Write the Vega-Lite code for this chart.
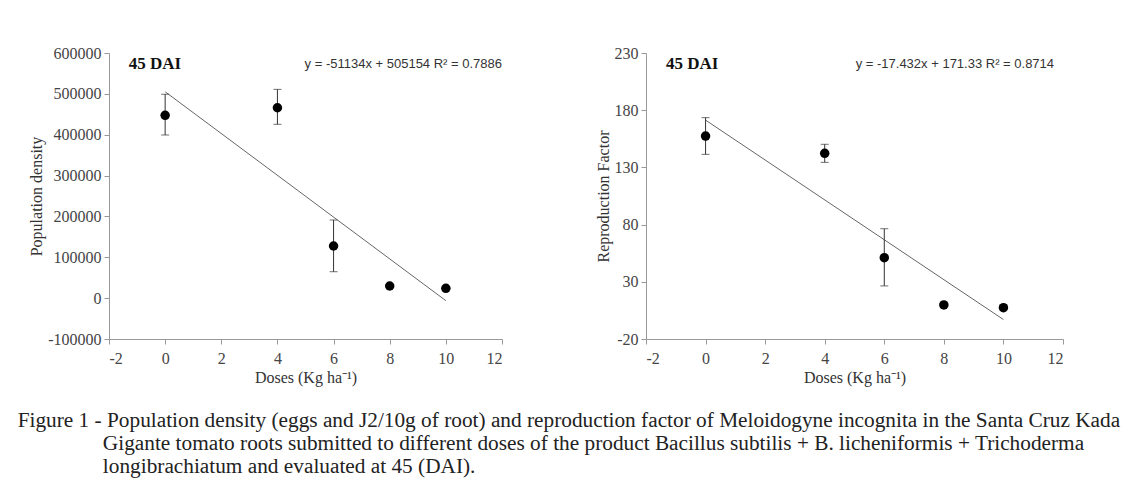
{
  "$schema": "https://vega.github.io/schema/vega-lite/v6.json",
  "padding": {"left": 17, "top": 45, "right": 5, "bottom": 5},
  "background": "white",
  "datasets": {
    "pop": [
      {"dose": 0, "mean": 447500, "lo": 399300, "hi": 499000},
      {"dose": 4, "mean": 466000, "lo": 425500, "hi": 511000},
      {"dose": 6, "mean": 127600, "lo": 64700, "hi": 191300},
      {"dose": 8, "mean": 29700, "lo": 29700, "hi": 29700},
      {"dose": 10, "mean": 24000, "lo": 24000, "hi": 24000}
    ],
    "popTrend": [
      {"dose": 0, "fit": 505154},
      {"dose": 10, "fit": -6186}
    ],
    "rf": [
      {"dose": 0, "mean": 157.4, "lo": 141.4, "hi": 173.5},
      {"dose": 4, "mean": 142.3, "lo": 134.4, "hi": 150.2},
      {"dose": 6, "mean": 51.1, "lo": 26.4, "hi": 76.4},
      {"dose": 8, "mean": 9.8, "lo": 9.8, "hi": 9.8},
      {"dose": 10, "mean": 7.4, "lo": 7.4, "hi": 7.4}
    ],
    "rfTrend": [
      {"dose": 0, "fit": 171.33},
      {"dose": 10, "fit": -2.99}
    ],
    "popPanel": [{"x": -1.3, "y": 573000, "label": "45 DAI"}],
    "popEq": [{"x": 12, "y": 573000, "label": "y = -51134x + 505154  R² = 0.7886"}],
    "rfPanel": [{"x": -1.33, "y": 220.4, "label": "45 DAI"}],
    "rfEq": [{"x": 11.7, "y": 220.4, "label": "y = -17.432x + 171.33  R² = 0.8714"}]
  },
  "hconcat": [
    {
      "width": 393,
      "height": 286,
      "encoding": {
        "x": {
          "field": "dose", "type": "quantitative",
          "scale": {"domain": [-2, 12], "nice": false},
          "axis": {"values": [-2, 0, 2, 4, 6, 8, 10, 12], "labelExpr": "'' + datum.value"},
          "title": "Doses (Kg ha⁻¹)"
        }
      },
      "layer": [
        {
          "data": {"name": "popTrend"},
          "mark": {"type": "line", "color": "#666", "strokeWidth": 1},
          "encoding": {
            "y": {
              "field": "fit", "type": "quantitative",
              "scale": {"domain": [-100000, 600000], "nice": false},
              "axis": {"values": [-100000, 0, 100000, 200000, 300000, 400000, 500000, 600000], "labelExpr": "'' + datum.value"},
              "title": "Population density"
            }
          }
        },
        {
          "data": {"name": "pop"},
          "mark": {"type": "errorbar", "color": "#333", "ticks": {"size": 8, "color": "#333"}, "rule": {"strokeWidth": 1}},
          "encoding": {
            "y": {"field": "lo", "type": "quantitative", "title": "Population density"},
            "y2": {"field": "hi"}
          }
        },
        {
          "data": {"name": "pop"},
          "mark": {"type": "circle", "color": "black", "opacity": 1, "size": 90},
          "encoding": {
            "y": {"field": "mean", "type": "quantitative", "title": "Population density"}
          }
        },
        {
          "data": {"name": "popPanel"},
          "mark": {"type": "text", "align": "left", "baseline": "middle", "font": "Liberation Serif", "fontSize": 17, "fontWeight": "bold", "color": "#111"},
          "encoding": {
            "x": {"field": "x", "type": "quantitative"},
            "y": {"field": "y", "type": "quantitative"},
            "text": {"field": "label"}
          }
        },
        {
          "data": {"name": "popEq"},
          "mark": {"type": "text", "align": "right", "baseline": "middle", "font": "Liberation Sans", "fontSize": 13, "color": "#333"},
          "encoding": {
            "x": {"field": "x", "type": "quantitative"},
            "y": {"field": "y", "type": "quantitative"},
            "text": {"field": "label"}
          }
        }
      ]
    },
    {
      "width": 417,
      "height": 286,
      "encoding": {
        "x": {
          "field": "dose", "type": "quantitative",
          "scale": {"domain": [-2, 12], "nice": false},
          "axis": {"values": [-2, 0, 2, 4, 6, 8, 10, 12], "labelExpr": "'' + datum.value"},
          "title": "Doses (Kg ha⁻¹)"
        }
      },
      "layer": [
        {
          "data": {"name": "rfTrend"},
          "mark": {"type": "line", "color": "#666", "strokeWidth": 1},
          "encoding": {
            "y": {
              "field": "fit", "type": "quantitative",
              "scale": {"domain": [-20, 230], "nice": false},
              "axis": {"values": [-20, 30, 80, 130, 180, 230], "labelExpr": "'' + datum.value"},
              "title": "Reproduction Factor"
            }
          }
        },
        {
          "data": {"name": "rf"},
          "mark": {"type": "errorbar", "color": "#333", "ticks": {"size": 8, "color": "#333"}, "rule": {"strokeWidth": 1}},
          "encoding": {
            "y": {"field": "lo", "type": "quantitative", "title": "Reproduction Factor"},
            "y2": {"field": "hi"}
          }
        },
        {
          "data": {"name": "rf"},
          "mark": {"type": "circle", "color": "black", "opacity": 1, "size": 90},
          "encoding": {
            "y": {"field": "mean", "type": "quantitative", "title": "Reproduction Factor"}
          }
        },
        {
          "data": {"name": "rfPanel"},
          "mark": {"type": "text", "align": "left", "baseline": "middle", "font": "Liberation Serif", "fontSize": 17, "fontWeight": "bold", "color": "#111"},
          "encoding": {
            "x": {"field": "x", "type": "quantitative"},
            "y": {"field": "y", "type": "quantitative"},
            "text": {"field": "label"}
          }
        },
        {
          "data": {"name": "rfEq"},
          "mark": {"type": "text", "align": "right", "baseline": "middle", "font": "Liberation Sans", "fontSize": 13, "color": "#333"},
          "encoding": {
            "x": {"field": "x", "type": "quantitative"},
            "y": {"field": "y", "type": "quantitative"},
            "text": {"field": "label"}
          }
        }
      ]
    }
  ],
  "spacing": 92,
  "title": {
    "text": [
      "Figure 1 - Population density (eggs and J2/10g of root) and reproduction factor of Meloidogyne incognita in the Santa Cruz Kada",
      "\u200b\u00a0\u00a0\u00a0\u00a0\u00a0\u00a0\u00a0\u00a0\u00a0\u00a0\u00a0\u00a0\u00a0\u00a0\u00a0\u00a0Gigante tomato roots submitted to different doses of the product Bacillus subtilis + B. licheniformis + Trichoderma",
      "\u200b\u00a0\u00a0\u00a0\u00a0\u00a0\u00a0\u00a0\u00a0\u00a0\u00a0\u00a0\u00a0\u00a0\u00a0\u00a0\u00a0longibrachiatum and evaluated at 45 (DAI)."
    ],
    "orient": "bottom",
    "anchor": "start",
    "frame": "bounds",
    "font": "Liberation Serif",
    "fontSize": 21.3,
    "fontWeight": "normal",
    "color": "#222",
    "lineHeight": 23,
    "offset": 25,
    "dx": -11
  },
  "config": {
    "view": {"stroke": null},
    "axis": {
      "grid": false,
      "domainColor": "#999",
      "tickColor": "#999",
      "tickSize": 5,
      "labelFont": "Liberation Serif",
      "labelFontSize": 16,
      "labelColor": "#444",
      "titleFont": "Liberation Serif",
      "titleFontSize": 16,
      "titleFontWeight": "normal",
      "titleColor": "#333"
    },
    "axisX": {"labelPadding": 6, "titlePadding": 3},
    "axisY": {"labelPadding": 3, "titlePadding": 3}
  }
}
